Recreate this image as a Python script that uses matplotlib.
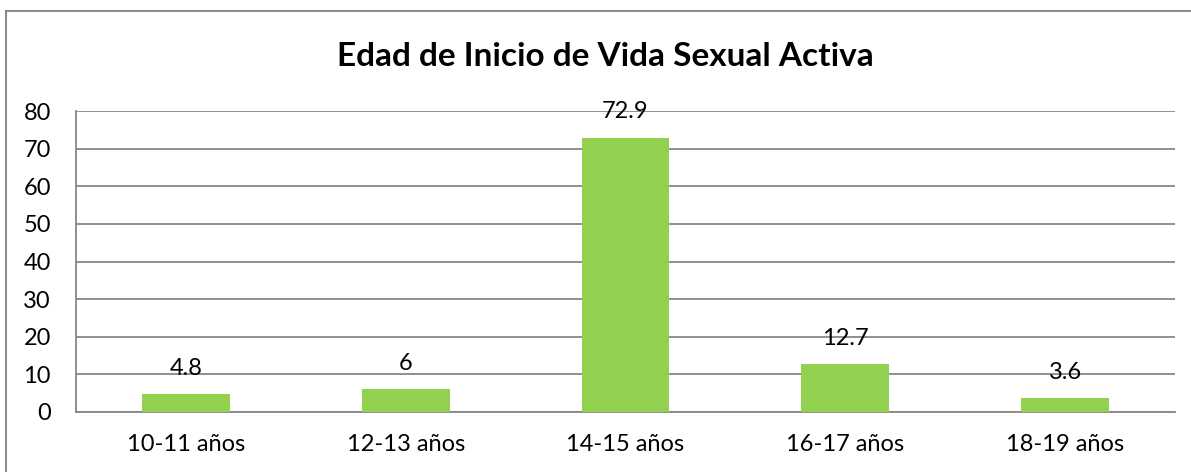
import matplotlib.pyplot as plt
from matplotlib.patches import Rectangle

categories = ['10-11 años', '12-13 años', '14-15 años', '16-17 años', '18-19 años']
values = [4.8, 6, 72.9, 12.7, 3.6]
labels = ['4.8', '6', '72.9', '12.7', '3.6']

plt.rcParams['font.family'] = ['Lato', 'DejaVu Sans']

fig = plt.figure(figsize=(11.91, 4.72), dpi=100)
ax = fig.add_axes([76 / 1191, 1 - 412 / 472, 1099 / 1191, 301 / 472])

x = range(len(categories))
ax.bar(x, values, width=0.4, color='#92D050', zorder=3)
for xi, v, t in zip(x, values, labels):
    ax.annotate(t, (xi, v), xytext=(0, 11), textcoords='offset points',
                ha='center', va='bottom', fontsize=17, color='black', zorder=4)

ax.set_xlim(-0.5, len(categories) - 0.5)
ax.set_ylim(0, 80)
ax.set_yticks(range(0, 81, 10))
ax.set_xticks(list(x))
ax.set_xticklabels(categories)
ax.tick_params(axis='both', length=0, labelsize=17, colors='black')
ax.tick_params(axis='y', pad=18)
ax.tick_params(axis='x', pad=16)
ax.grid(axis='y', color='#878787', linewidth=1.3, zorder=0)
for side in ['top', 'right']:
    ax.spines[side].set_visible(False)
ax.spines['left'].set_color('#878787')
ax.spines['left'].set_linewidth(1.3)
ax.spines['bottom'].set_color('#878787')
ax.spines['bottom'].set_linewidth(1.3)

fig.text(605 / 1191, 1 - 57 / 472, 'Edad de Inicio de Vida Sexual Activa',
         ha='center', va='center', fontsize=24, fontweight='bold')

# chart frame (cropped on right and bottom)
fig.patches.append(Rectangle((6 / 1191, -0.2), 1.5, 1.2 - 11 / 472,
                             transform=fig.transFigure, fill=False,
                             edgecolor='#8c8c8c', linewidth=1.5))

plt.savefig('out.png', dpi=100)
plt.close()
